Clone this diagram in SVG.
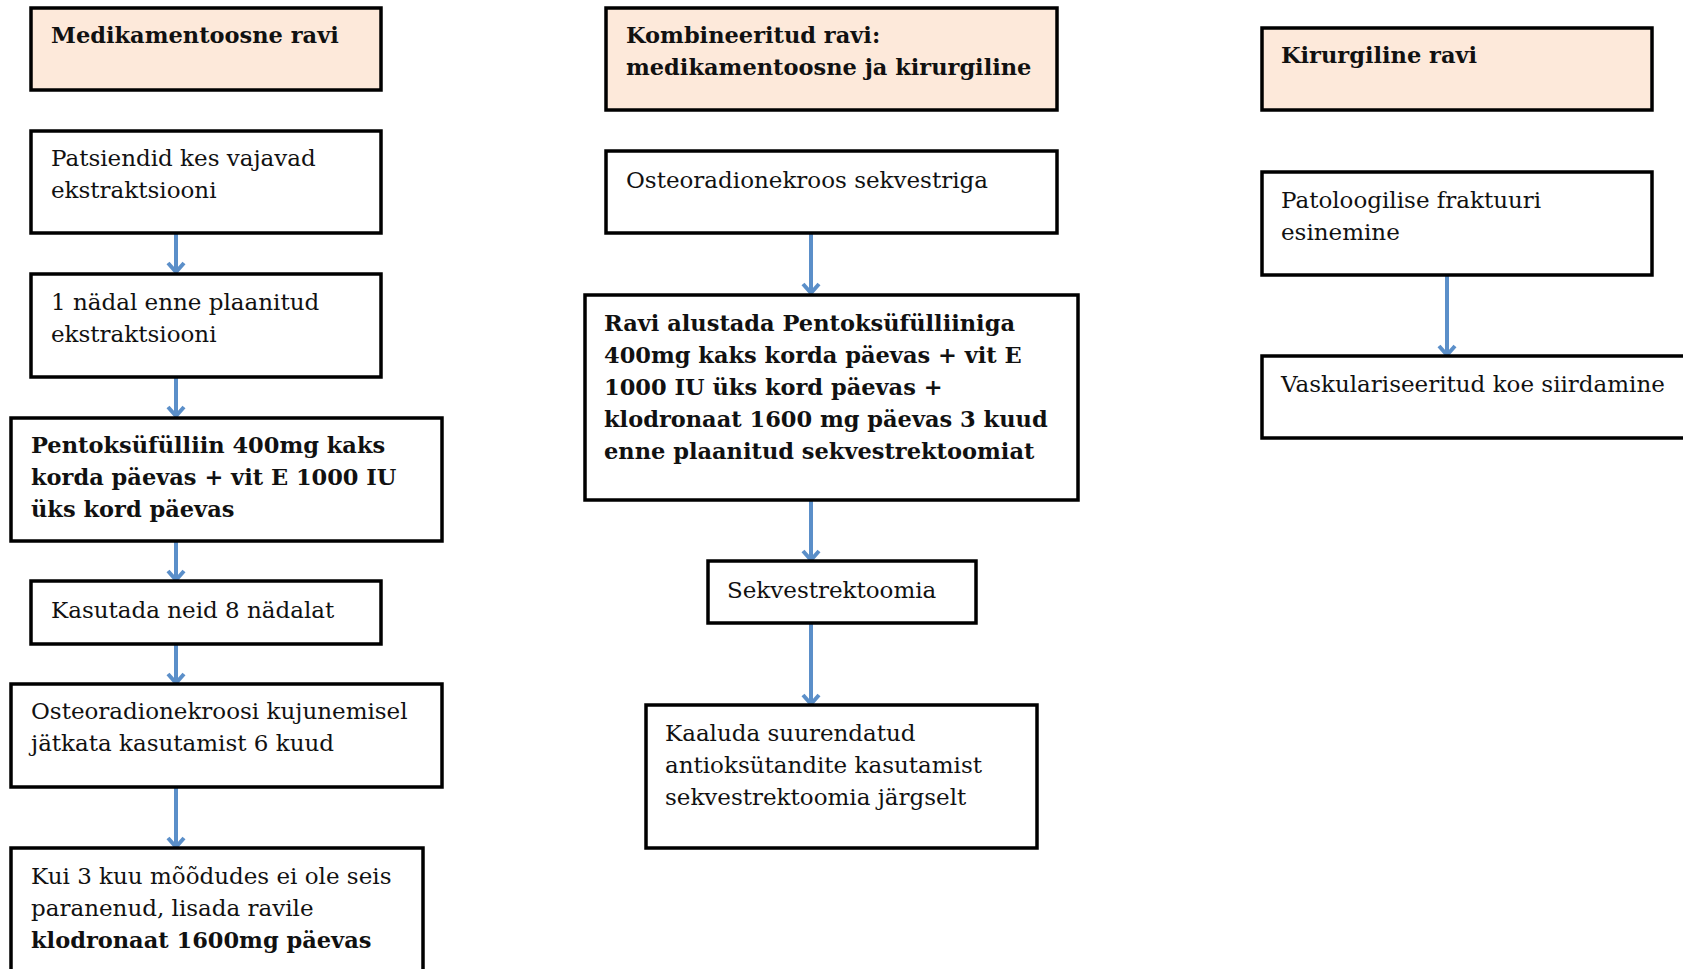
<svg xmlns="http://www.w3.org/2000/svg" width="1683" height="969" viewBox="0 0 1683 969">
<defs>
<style>
.box{fill:#ffffff;stroke:#000000;stroke-width:3.5}
.hdr{fill:#FDE9DA;stroke:#000000;stroke-width:3.5}
text{font-family:"DejaVu Serif","Liberation Serif",serif;font-size:23px;fill:#111111}
.b{font-weight:bold;font-size:22.5px}
.conn line{stroke:#5B8FC9;stroke-width:4}
.conn path{fill:none;stroke:#5B8FC9;stroke-width:4;stroke-linejoin:miter}
</style>
</defs>
<rect width="1683" height="969" fill="#ffffff"/>

<g id="connectors" class="conn">
<line x1="176" y1="234" x2="176" y2="272"/><path d="M168,263 L176,272 L184,263"/>
<line x1="176" y1="378" x2="176" y2="416"/><path d="M168,407 L176,416 L184,407"/>
<line x1="176" y1="542" x2="176" y2="580"/><path d="M168,571 L176,580 L184,571"/>
<line x1="176" y1="645" x2="176" y2="683"/><path d="M168,674 L176,683 L184,674"/>
<line x1="176" y1="788" x2="176" y2="847"/><path d="M168,838 L176,847 L184,838"/>
<line x1="811" y1="234" x2="811" y2="293"/><path d="M803,284 L811,293 L819,284"/>
<line x1="811" y1="501" x2="811" y2="560"/><path d="M803,551 L811,560 L819,551"/>
<line x1="811" y1="624" x2="811" y2="704"/><path d="M803,695 L811,704 L819,695"/>
<line x1="1447" y1="276" x2="1447" y2="355"/><path d="M1439,346 L1447,355 L1455,346"/>
</g>

<g id="n-medikamentoosne">
<rect class="hdr" x="31" y="8" width="350" height="82"/>
<text class="b" x="51" y="43">Medikamentoosne ravi</text>
</g>
<g id="n-patsiendid">
<rect class="box" x="31" y="131" width="350" height="102"/>
<text x="51" y="166">Patsiendid kes vajavad</text>
<text x="51" y="198">ekstraktsiooni</text>
</g>
<g id="n-nadal">
<rect class="box" x="31" y="274" width="350" height="103"/>
<text x="51" y="310">1 nädal enne plaanitud</text>
<text x="51" y="342">ekstraktsiooni</text>
</g>
<g id="n-pentoks">
<rect class="box" x="11" y="418" width="431" height="123"/>
<text class="b" x="31" y="453">Pentoksüfülliin 400mg kaks</text>
<text class="b" x="31" y="485">korda päevas + vit E 1000 IU</text>
<text class="b" x="31" y="517">üks kord päevas</text>
</g>
<g id="n-kasutada">
<rect class="box" x="31" y="581" width="350" height="63"/>
<text x="51" y="618">Kasutada neid 8 nädalat</text>
</g>
<g id="n-osteoradio">
<rect class="box" x="11" y="684" width="431" height="103"/>
<text x="31" y="719">Osteoradionekroosi kujunemisel</text>
<text x="31" y="751">jätkata kasutamist 6 kuud</text>
</g>
<g id="n-kui">
<rect class="box" x="11" y="848" width="412" height="140"/>
<text x="31" y="884">Kui 3 kuu mõõdudes ei ole seis</text>
<text x="31" y="916">paranenud, lisada ravile</text>
<text class="b" x="31" y="948">klodronaat 1600mg päevas</text>
</g>

<g id="n-kombineeritud">
<rect class="hdr" x="606" y="8" width="451" height="102"/>
<text class="b" x="626" y="43">Kombineeritud ravi:</text>
<text class="b" x="626" y="75">medikamentoosne ja kirurgiline</text>
</g>
<g id="n-sekvestriga">
<rect class="box" x="606" y="151" width="451" height="82"/>
<text x="626" y="188">Osteoradionekroos sekvestriga</text>
</g>
<g id="n-ravi-alustada">
<rect class="box" x="585" y="295" width="493" height="205"/>
<text class="b" x="604" y="331">Ravi alustada Pentoksüfülliiniga</text>
<text class="b" x="604" y="363">400mg kaks korda päevas + vit E</text>
<text class="b" x="604" y="395">1000 IU üks kord päevas +</text>
<text class="b" x="604" y="427">klodronaat 1600 mg päevas 3 kuud</text>
<text class="b" x="604" y="459">enne plaanitud sekvestrektoomiat</text>
</g>
<g id="n-sekvestrektoomia">
<rect class="box" x="708" y="561" width="268" height="62"/>
<text x="727" y="598">Sekvestrektoomia</text>
</g>
<g id="n-kaaluda">
<rect class="box" x="646" y="705" width="391" height="143"/>
<text x="665" y="741">Kaaluda suurendatud</text>
<text x="665" y="773">antioksütandite kasutamist</text>
<text x="665" y="805">sekvestrektoomia järgselt</text>
</g>

<g id="n-kirurgiline">
<rect class="hdr" x="1262" y="28" width="390" height="82"/>
<text class="b" x="1281" y="63">Kirurgiline ravi</text>
</g>
<g id="n-patoloogilise">
<rect class="box" x="1262" y="172" width="390" height="103"/>
<text x="1281" y="208">Patoloogilise fraktuuri</text>
<text x="1281" y="240">esinemine</text>
</g>
<g id="n-vaskulariseeritud">
<rect class="box" x="1262" y="356" width="440" height="82"/>
<text x="1281" y="392">Vaskulariseeritud koe siirdamine</text>
</g>
</svg>
